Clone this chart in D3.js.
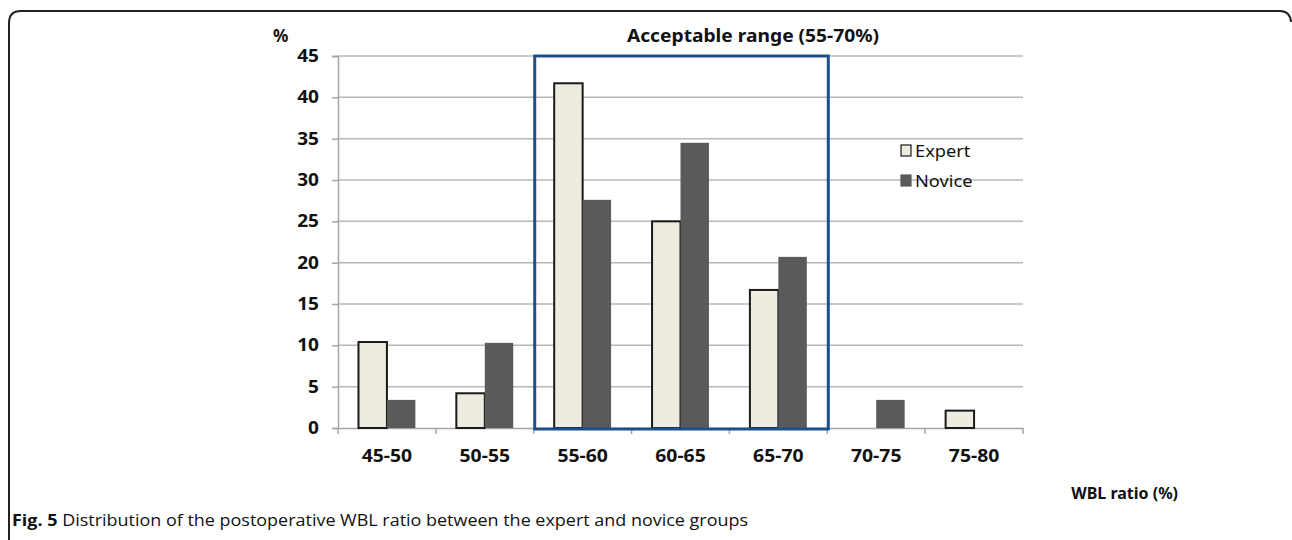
<!DOCTYPE html>
<html>
<head>
<meta charset="utf-8">
<script src="https://cdn.jsdelivr.net/npm/d3@7"></script>
<style>
  html, body { margin: 0; padding: 0; background: #fff; }
  svg { display: block; }
</style>
</head>
<body>
<svg id="chart" width="1292" height="540"></svg>
<script>
// WBL ratio bins and share of knees per group (%)
const categories = ["45-50", "50-55", "55-60", "60-65", "65-70", "70-75", "75-80"];
const seriesNames = ["Expert", "Novice"];
const expertValues = [10.4, 4.2, 41.7, 25.0, 16.7, 0, 2.1];
const noviceValues = [3.4, 10.3, 27.6, 34.5, 20.7, 3.4, 0];
const yTicks = [0, 5, 10, 15, 20, 25, 30, 35, 40, 45];
const acceptableRange = ["55-60", "65-70"];

const svg = d3.select("#chart");
const fontMain = "'Noto Sans', 'Open Sans', sans-serif";

// widen glyphs horizontally by factor k (chart text uses a broad face)
function widen(sel, k) {
  sel.each(function () {
    const len = this.getComputedTextLength();
    d3.select(this).attr("textLength", len * k).attr("lengthAdjust", "spacingAndGlyphs");
  });
}

// plot area
const plotLeft = 338, plotRight = 1023, plotTop = 56, plotBottom = 428;

const x = d3.scaleBand().domain(categories).range([plotLeft, plotRight]).paddingInner(0).paddingOuter(0);
const xs = d3.scaleBand().domain(seriesNames).range([0, x.bandwidth()]).paddingInner(0).paddingOuter(0.72);
const y = d3.scaleLinear().domain([0, 45]).range([plotBottom, plotTop]);

// panel frame (rounded top corners)
svg.append("path")
  .attr("d", "M9,540 L9,23 Q9,11 21,11 L1280,11 Q1290,11 1291,22")
  .attr("fill", "none")
  .attr("stroke", "#222")
  .attr("stroke-width", 2);

// horizontal gridlines
svg.append("g")
  .selectAll("line")
  .data(yTicks.filter(d => d > 0))
  .join("line")
  .attr("x1", plotLeft).attr("x2", plotRight)
  .attr("y1", d => y(d)).attr("y2", d => y(d))
  .attr("stroke", "#b8b8b8")
  .attr("stroke-width", 1.5);

// y axis
const yAxis = svg.append("g")
  .attr("transform", `translate(${plotLeft},0)`)
  .call(d3.axisLeft(y).tickValues(yTicks).tickSize(6).tickPadding(13));
yAxis.select(".domain").attr("stroke", "#a6a6a6").attr("stroke-width", 1.5);
yAxis.selectAll(".tick line").attr("stroke", "#a6a6a6").attr("stroke-width", 1.5);
yAxis.selectAll(".tick text")
  .attr("fill", "#111")
  .style("font-family", fontMain)
  .style("font-weight", "bold")
  .style("font-size", "17px")
  .call(widen, 1.12);

// x axis (ticks at bin edges)
const xAxis = svg.append("g")
  .attr("transform", `translate(0,${plotBottom})`)
  .call(d3.axisBottom(x).tickSize(0).tickPadding(22));
xAxis.select(".domain").attr("stroke", "#a6a6a6").attr("stroke-width", 1.5);
xAxis.selectAll(".tick text")
  .attr("fill", "#111")
  .style("font-family", fontMain)
  .style("font-weight", "bold")
  .style("font-size", "17px")
  .call(widen, 1.14);
const edges = categories.map(c => x(c)).concat([x(categories[categories.length - 1]) + x.bandwidth()]);
xAxis.selectAll(".edge")
  .data(edges)
  .join("line")
  .attr("class", "edge")
  .attr("x1", d => d).attr("x2", d => d)
  .attr("y1", 0).attr("y2", 6)
  .attr("stroke", "#a6a6a6")
  .attr("stroke-width", 1.5);

// bars
const rows = categories.map((c, i) => ({ cat: c, Expert: expertValues[i], Novice: noviceValues[i] }));
const fills = { Expert: "#eeebe0", Novice: "#5a5a5a" };
const strokes = { Expert: "#1a1a1a", Novice: "none" };

svg.append("g")
  .selectAll("g")
  .data(rows)
  .join("g")
  .attr("transform", d => `translate(${x(d.cat)},0)`)
  .selectAll("rect")
  .data(d => seriesNames.map(s => ({ s, v: d[s] })).filter(e => e.v > 0))
  .join("rect")
  .attr("x", d => xs(d.s))
  .attr("width", xs.bandwidth())
  .attr("y", d => y(d.v))
  .attr("height", d => y(0) - y(d.v))
  .attr("fill", d => fills[d.s])
  .attr("stroke", d => strokes[d.s])
  .attr("stroke-width", 2);

// acceptable-range box
const rx0 = x(acceptableRange[0]);
const rx1 = x(acceptableRange[1]) + x.bandwidth();
svg.append("rect")
  .attr("x", rx0 + 1)
  .attr("y", y(45))
  .attr("width", rx1 - rx0)
  .attr("height", y(0) - y(45) + 1)
  .attr("fill", "none")
  .attr("stroke", "#1f4e8c")
  .attr("stroke-width", 3);

svg.append("text")
  .attr("x", 753).attr("y", 42)
  .attr("text-anchor", "middle")
  .attr("fill", "#111")
  .style("font-family", fontMain)
  .style("font-weight", "bold")
  .style("font-size", "17px")
  .text("Acceptable range (55-70%)")
  .call(widen, 1.13);

// axis titles
svg.append("text")
  .attr("x", 273).attr("y", 42)
  .attr("fill", "#111")
  .style("font-family", fontMain)
  .style("font-weight", "bold")
  .style("font-size", "17px")
  .text("%");

svg.append("text")
  .attr("x", 1178).attr("y", 499)
  .attr("text-anchor", "end")
  .attr("fill", "#111")
  .style("font-family", fontMain)
  .style("font-weight", "bold")
  .style("font-size", "16px")
  .text("WBL ratio (%)");

// legend
const legend = svg.append("g").attr("transform", "translate(901,145)");
const li = legend.selectAll("g")
  .data(seriesNames)
  .join("g")
  .attr("transform", (d, i) => `translate(0,${i * 30})`);
li.append("rect")
  .attr("x", 0).attr("y", 0)
  .attr("width", 10).attr("height", 11)
  .attr("fill", d => fills[d])
  .attr("stroke", d => d === "Expert" ? "#1a1a1a" : fills[d])
  .attr("stroke-width", 1.2);
li.append("text")
  .attr("x", 14).attr("y", 12)
  .attr("fill", "#111")
  .style("font-family", fontMain)
  .style("font-size", "16px")
  .text(d => d)
  .call(widen, 1.14);

// caption
const cap = svg.append("text")
  .attr("x", 12).attr("y", 526)
  .attr("fill", "#111")
  .style("font-family", "'Open Sans', 'Noto Sans', sans-serif")
  .style("font-size", "16px");
cap.append("tspan").style("font-weight", "bold").text("Fig. 5");
cap.append("tspan").text(" Distribution of the postoperative WBL ratio between the expert and novice groups");
cap.attr("textLength", 736).attr("lengthAdjust", "spacingAndGlyphs");
</script>
</body>
</html>
